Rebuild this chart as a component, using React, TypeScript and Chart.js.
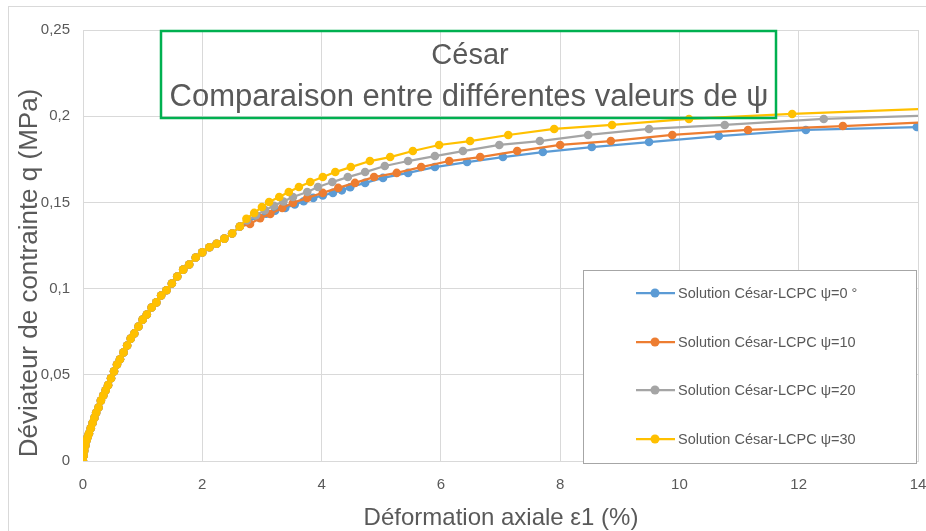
import React, { useEffect, useRef } from 'react';
import { Chart, registerables } from 'chart.js';

Chart.register(...registerables);

// ---- Data ----
const commonX = [0, 0.01, 0.02, 0.04, 0.06, 0.08, 0.1, 0.13, 0.16, 0.19, 0.22, 0.26, 0.3, 0.34, 0.38, 0.42, 0.47, 0.52, 0.57, 0.62, 0.68, 0.74, 0.8, 0.86, 0.93, 1.0, 1.07, 1.15, 1.23, 1.31, 1.4, 1.49, 1.58, 1.68, 1.78, 1.89, 2.0, 2.12, 2.24, 2.37, 2.5, 2.63];
const commonY = [0, 0.003, 0.006, 0.009, 0.012, 0.014, 0.016, 0.019, 0.022, 0.025, 0.028, 0.031, 0.035, 0.038, 0.041, 0.044, 0.048, 0.052, 0.056, 0.059, 0.063, 0.067, 0.071, 0.074, 0.078, 0.082, 0.085, 0.089, 0.092, 0.096, 0.099, 0.103, 0.107, 0.111, 0.114, 0.118, 0.121, 0.124, 0.126, 0.129, 0.132, 0.136];

const psi0X = [2.77, 2.92, 3.07, 3.22, 3.39, 3.55, 3.7, 3.86, 4.02, 4.19, 4.34, 4.48, 4.73, 5.03, 5.45, 5.9, 6.44, 7.04, 7.71, 8.53, 9.49, 10.66, 12.12, 13.98];
const psi0Y = [0.139, 0.1415, 0.1435, 0.1452, 0.1468, 0.1488, 0.1507, 0.1526, 0.154, 0.1555, 0.157, 0.1588, 0.1613, 0.1642, 0.1671, 0.1705, 0.1734, 0.1763, 0.1792, 0.1821, 0.185, 0.1885, 0.192, 0.1937];

const psi10X = [2.8, 2.97, 3.14, 3.34, 3.52, 3.76, 4.02, 4.28, 4.56, 4.88, 5.26, 5.67, 6.14, 6.66, 7.28, 8.0, 8.85, 9.88, 11.15, 12.74, 14.6];
const psi10Y = [0.1375, 0.1409, 0.1433, 0.1468, 0.1497, 0.1526, 0.1555, 0.1584, 0.1613, 0.1647, 0.1671, 0.1705, 0.174, 0.1763, 0.1798, 0.1833, 0.1856, 0.1891, 0.192, 0.1943, 0.1972];

const psi20X = [2.75, 2.9, 3.05, 3.2, 3.36, 3.52, 3.76, 3.94, 4.18, 4.44, 4.73, 5.06, 5.45, 5.9, 6.37, 6.98, 7.66, 8.47, 9.49, 10.76, 12.42, 14.5];
const psi20Y = [0.1395, 0.1425, 0.1455, 0.148, 0.1505, 0.1531, 0.156, 0.1589, 0.1618, 0.1647, 0.1676, 0.1711, 0.174, 0.1769, 0.1798, 0.1833, 0.1856, 0.1891, 0.1926, 0.1949, 0.1984, 0.2008];

const psi30X = [2.74, 2.87, 3.0, 3.12, 3.29, 3.45, 3.62, 3.81, 4.02, 4.23, 4.49, 4.81, 5.15, 5.53, 5.97, 6.49, 7.13, 7.9, 8.87, 10.16, 11.89, 14.3];
const psi30Y = [0.1405, 0.1439, 0.1473, 0.1502, 0.1531, 0.156, 0.1589, 0.1618, 0.1647, 0.1676, 0.1705, 0.174, 0.1763, 0.1798, 0.1833, 0.1856, 0.1891, 0.1926, 0.1949, 0.1984, 0.2013, 0.2045];

const seriesLabels = [
  'Solution César-LCPC ψ=0 °',
  'Solution César-LCPC ψ=10',
  'Solution César-LCPC ψ=20',
  'Solution César-LCPC ψ=30',
];
const seriesColors = ['#5B9BD5', '#ED7D31', '#A5A5A5', '#FFC000'];

const titleLines = ['César', 'Comparaison entre différentes valeurs de ψ'];
const xAxisTitle = 'Déformation axiale ε1 (%)';
const yAxisTitle = 'Déviateur de contrainte q (MPa)';

const xMin = 0;
const xMax = 14;
const xStep = 2;
const yMin = 0;
const yMax = 0.25;
const yStep = 0.05;

const FONT = '"Liberation Sans", Arial, sans-serif';
const TEXT = '#595959';

function buildPoints(xs: number[], ys: number[]) {
  const allX = commonX.concat(xs);
  const allY = commonY.concat(ys);
  return allX.map((x, i) => ({ x, y: allY[i] }));
}

const overlayPlugin = {
  id: 'overlay',
  afterDraw(chart: any) {
    const ctx = chart.ctx as CanvasRenderingContext2D;
    ctx.save();
    // outer chart border
    ctx.strokeStyle = '#d9d9d9';
    ctx.lineWidth = 1;
    ctx.strokeRect(8.5, 6.5, 1200, 1200);

    // title box
    ctx.strokeStyle = '#00B050';
    ctx.lineWidth = 2.5;
    ctx.strokeRect(161, 31, 615, 87);
    ctx.fillStyle = TEXT;
    ctx.textAlign = 'center';
    ctx.textBaseline = 'middle';
    ctx.font = `29px ${FONT}`;
    ctx.fillText(titleLines[0], 470, 56);
    ctx.font = `31px ${FONT}`;
    ctx.fillText(titleLines[1], 469, 97);

    // axis titles
    ctx.font = `24px ${FONT}`;
    ctx.fillText(xAxisTitle, 501, 518);
    ctx.save();
    ctx.translate(30, 273);
    ctx.rotate(-Math.PI / 2);
    ctx.font = `26px ${FONT}`;
    ctx.fillText(yAxisTitle, 0, 0);
    ctx.restore();

    // legend box
    ctx.fillStyle = '#ffffff';
    ctx.fillRect(583, 270, 334, 193);
    ctx.strokeStyle = '#a6a6a6';
    ctx.lineWidth = 1;
    ctx.strokeRect(583.5, 270.5, 333, 193);
    const ys = [293, 342, 390, 439];
    ctx.textAlign = 'left';
    ctx.font = `14.5px ${FONT}`;
    seriesLabels.forEach((lab, i) => {
      const y = ys[i];
      ctx.strokeStyle = seriesColors[i];
      ctx.lineWidth = 2.25;
      ctx.beginPath();
      ctx.moveTo(636, y);
      ctx.lineTo(675, y);
      ctx.stroke();
      ctx.fillStyle = seriesColors[i];
      ctx.beginPath();
      ctx.arc(655, y, 4.5, 0, Math.PI * 2);
      ctx.fill();
      ctx.fillStyle = TEXT;
      ctx.fillText(lab, 678, y + 1);
    });
    ctx.restore();
  },
};

export default function App() {
  const canvasRef = useRef<HTMLCanvasElement | null>(null);

  useEffect(() => {
    document.body.style.margin = '0';
    const canvas = canvasRef.current;
    if (!canvas) return;
    const tails: [number[], number[]][] = [
      [psi0X, psi0Y],
      [psi10X, psi10Y],
      [psi20X, psi20Y],
      [psi30X, psi30Y],
    ];
    const datasets = tails.map(([xs, ys], i) => ({
      label: seriesLabels[i],
      data: buildPoints(xs, ys),
      showLine: true,
      borderColor: seriesColors[i],
      backgroundColor: seriesColors[i],
      pointBackgroundColor: seriesColors[i],
      pointBorderColor: seriesColors[i],
      pointRadius: 4.3,
      pointBorderWidth: 0,
      borderWidth: 2.25,
      tension: 0,
      order: 3 - i,
    }));

    const chart = new Chart(canvas, {
      type: 'scatter',
      data: { datasets },
      options: {
        animation: false,
        responsive: false,
        devicePixelRatio: 1,
        layout: { padding: { left: 0, right: 8, top: 30, bottom: 0 } },
        plugins: {
          legend: { display: false },
          tooltip: { enabled: false },
          title: { display: false },
        },
        scales: {
          x: {
            type: 'linear',
            min: xMin,
            max: xMax,
            afterFit: (s: any) => { s.height = 70; s.paddingRight = 0; s.paddingLeft = 0; },
            ticks: {
              stepSize: xStep,
              padding: 15,
              color: TEXT,
              font: { family: FONT, size: 15 },
              maxRotation: 0,
            },
            grid: { color: '#d9d9d9', lineWidth: 1, drawTicks: false },
            border: { color: '#d9d9d9', width: 1 },
          },
          y: {
            type: 'linear',
            min: yMin,
            max: yMax,
            afterFit: (s: any) => { s.width = 83; s.paddingTop = 0; s.paddingBottom = 0; },
            ticks: {
              stepSize: yStep,
              padding: 13,
              color: TEXT,
              font: { family: FONT, size: 15 },
              callback: (v: any) => String(Math.round(Number(v) * 100) / 100).replace('.', ','),
            },
            grid: { color: '#d9d9d9', lineWidth: 1, drawTicks: false },
            border: { color: '#d9d9d9', width: 1 },
          },
        },
      },
      plugins: [overlayPlugin],
    } as any);
    return () => chart.destroy();
  }, []);

  return (
    <div style={{ position: 'absolute', left: 0, top: 0, width: 926, height: 531, background: '#fff' }}>
      <canvas ref={canvasRef} width={926} height={531} />
    </div>
  );
}
